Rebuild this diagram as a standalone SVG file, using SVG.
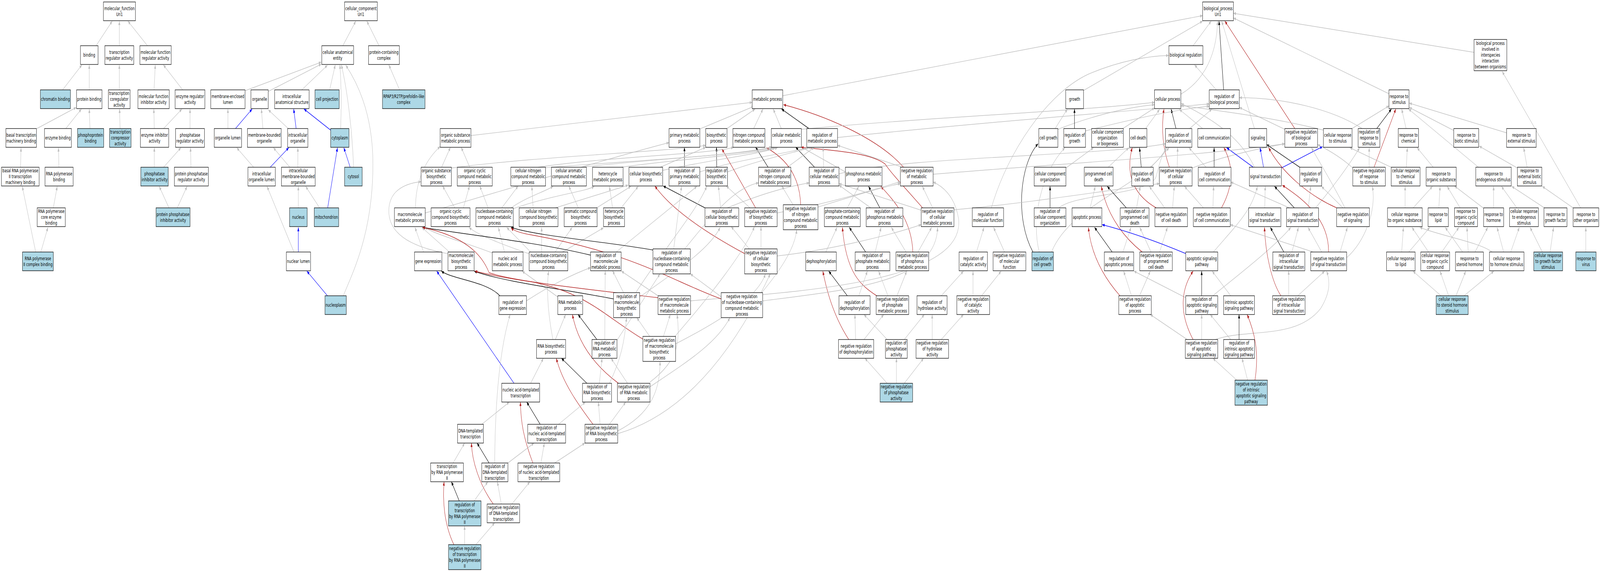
<svg xmlns="http://www.w3.org/2000/svg" width="6543" height="1464" viewBox="0 0 6543 1464" preserveAspectRatio="none" style="width:100vw;height:100vh;display:block;overflow:hidden">
<style>
.n rect{fill:#fff;stroke:#000;stroke-width:1.3}
.n.a rect{fill:#add8e6}
text{font-family:"DejaVu Sans",sans-serif;font-size:13px;text-anchor:middle;fill:#000}
#edges path{fill:none;stroke:#c0c0c0;stroke-width:1.4;marker-end:url(#mg)}
#edges path.k{stroke:#000;marker-end:url(#mk)}
#edges path.b{stroke:#0000ff;marker-end:url(#mb)}
#edges path.r{stroke:#b22222;marker-end:url(#mr)}
</style>
<defs>
<marker id="mg" viewBox="0 0 10 8" refX="10" refY="4" markerWidth="11" markerHeight="8" markerUnits="userSpaceOnUse" orient="auto"><path d="M0,0L10,4L0,8z" fill="#c0c0c0"/></marker>
<marker id="mk" viewBox="0 0 10 8" refX="10" refY="4" markerWidth="11" markerHeight="8" markerUnits="userSpaceOnUse" orient="auto"><path d="M0,0L10,4L0,8z" fill="#000"/></marker>
<marker id="mb" viewBox="0 0 10 8" refX="10" refY="4" markerWidth="11" markerHeight="8" markerUnits="userSpaceOnUse" orient="auto"><path d="M0,0L10,4L0,8z" fill="#0000ff"/></marker>
<marker id="mr" viewBox="0 0 10 8" refX="10" refY="4" markerWidth="11" markerHeight="8" markerUnits="userSpaceOnUse" orient="auto"><path d="M0,0L10,4L0,8z" fill="#b22222"/></marker>
</defs>
<rect width="6543" height="1464" fill="#fff"/>
<g id="edges">
<path d="M393,117 L459,54"/>
<path d="M488,117 L488,54"/>
<path d="M603,117 L523,54"/>
<path d="M256,230 L335,166"/>
<path d="M365,230 L365,166"/>
<path d="M488,230 L488,166"/>
<path d="M630,230 L635,166"/>
<path d="M747,230 L668,166"/>
<path d="M151,329 L312,275"/>
<path d="M269,329 L333,279"/>
<path d="M368,329 L365,279"/>
<path d="M491,329 L489,279"/>
<path d="M631,329 L629,279"/>
<path d="M669,329 L744,279"/>
<path d="M777,329 L777,279"/>
<path d="M84,428 L86,378"/>
<path d="M241,428 L239,378"/>
<path d="M631,428 L631,378"/>
<path d="M669,428 L740,378"/>
<path d="M781,428 L779,378"/>
<path d="M218,532 L234,477"/>
<path d="M691,532 L651,477"/>
<path d="M725,532 L765,477"/>
<path d="M146,645 L91,477"/>
<path d="M167,645 L196,582"/>
<path d="M1402,117 L1455,54"/>
<path d="M1550,117 L1500,54"/>
<path d="M1003,232 L1314,159"/>
<path d="M1097,234 L1314,164"/>
<path d="M1234,230 L1339,167"/>
<path d="M1348,230 L1371,166"/>
<path d="M1393,329 C1396,280 1396,220 1390,166"/>
<path d="M1446,428 C1440,330 1420,230 1396,166"/>
<path d="M1404,757 C1440,700 1525,600 1525,420 C1525,300 1470,220 1414,167"/>
<path class="b" d="M963,329 L1031,279"/>
<path d="M932,329 L932,279"/>
<path d="M1075,329 L1069,279"/>
<path d="M1179,329 L1097,281"/>
<path class="b" d="M1211,329 L1201,279"/>
<path class="b" d="M1352,333 L1243,279"/>
<path d="M1037,428 L968,378"/>
<path class="b" d="M1105,428 L1181,378"/>
<path d="M1185,428 L1118,378"/>
<path d="M1218,428 L1218,378"/>
<path class="b" d="M1432,428 L1406,378"/>
<path class="b" d="M1340,532 L1380,378"/>
<path d="M1220,532 L1220,477"/>
<path d="M1307,532 L1250,477"/>
<path class="b" d="M1220,645 L1220,582"/>
<path d="M1202,645 L1092,477"/>
<path class="b" d="M1339,757 L1255,694"/>
<path d="M1634,230 L1590,166"/>
<path d="M4879,117 L4953,54"/>
<path d="M3201,245 L4918,40"/>
<path d="M4430,232 L4918,54"/>
<path d="M4829,241 C4900,215 4975,160 4979,54"/>
<path class="k" d="M5004,230 L4985,54"/>
<path class="r" d="M5295,329 L5009,54"/>
<path d="M5680,240 L5044,46"/>
<path d="M6028,134 L5044,34"/>
<path d="M4974,230 L4885,166"/>
<path d="M4054,532 C4120,390 4280,240 4450,190 C4580,155 4700,143 4779,142"/>
<path d="M1925,347 L3076,262"/>
<path d="M2862,330 L3084,272"/>
<path d="M2973,329 L3088,279"/>
<path d="M3082,329 L3120,279"/>
<path d="M3195,329 L3162,279"/>
<path class="k" d="M3308,329 L3196,279"/>
<path class="r" d="M3695,428 C3600,360 3400,300 3204,268"/>
<path d="M3276,331 C3800,300 4400,285 4721,262"/>
<path d="M4326,331 C4450,300 4600,275 4721,268"/>
<path d="M4592,329 L4722,276"/>
<path d="M4685,329 L4742,280"/>
<path class="k" d="M4809,329 L4789,279"/>
<path class="r" d="M4782,428 C4750,370 4750,320 4760,279"/>
<path d="M4918,329 L4823,280"/>
<path d="M5130,428 C5080,360 4980,310 4830,265"/>
<path d="M5412,333 C5200,300 5000,285 4830,270"/>
<path d="M5130,329 L4996,54"/>
<path d="M3425,352 C3900,320 4500,290 4945,266"/>
<path d="M4439,335 C4600,310 4800,280 4945,272"/>
<path d="M4865,329 L4956,279"/>
<path d="M5254,331 L5068,275"/>
<path d="M5570,329 C5450,280 5250,250 5068,250"/>
<path d="M3431,445 C3700,400 4500,400 4766,368"/>
<path d="M4330,532 C4400,495 4700,500 4728,452 C4740,420 4755,390 4770,378"/>
<path d="M4300,645 C4380,520 4700,470 4770,378"/>
<path d="M4707,428 L4781,378"/>
<path d="M4814,428 L4816,378"/>
<path d="M4932,428 L4862,378"/>
<path d="M4875,430 C5000,400 5150,380 5254,368"/>
<path d="M4532,428 L4616,378"/>
<path class="k" d="M4667,428 L4660,378"/>
<path class="r" d="M4728,532 C4640,500 4600,450 4630,378"/>
<path d="M4763,532 L4700,477"/>
<path d="M4795,532 L4802,477"/>
<path d="M4648,532 L4663,477"/>
<path class="k" d="M4606,532 L4528,477"/>
<path class="r" d="M4671,645 C4610,615 4530,560 4504,477"/>
<path d="M4707,645 L4661,582"/>
<path d="M4742,645 L4774,582"/>
<path d="M4458,532 L4479,477"/>
<path class="k" d="M4548,645 L4476,582"/>
<path d="M4592,645 L4625,582"/>
<path class="r" d="M4580,757 C4500,700 4460,640 4451,582"/>
<path d="M4627,757 L4595,694"/>
<path d="M4660,757 L4704,694"/>
<path class="b" d="M4849,649 C4700,610 4600,590 4507,575"/>
<path d="M4962,645 C5050,580 5120,540 5142,477"/>
<path class="k" d="M4914,757 L4914,694"/>
<path d="M4849,762 L4637,694"/>
<path d="M4960,757 C5030,720 5200,640 5279,582"/>
<path d="M4914,869 L4914,805"/>
<path d="M4855,869 L4704,805"/>
<path class="r" d="M4879,869 C4820,800 4830,740 4879,694"/>
<path d="M4970,869 C5100,840 5300,870 5400,790 C5440,750 5440,720 5425,694"/>
<path d="M5033,757 L4957,694"/>
<path d="M5033,869 L4949,805"/>
<path class="k" d="M5067,869 L5067,805"/>
<path d="M5058,973 L4960,917"/>
<path d="M5102,973 L5079,917"/>
<path class="r" d="M5132,973 C5150,900 5130,850 5100,805"/>
<path class="b" d="M5125,428 L5016,378"/>
<path class="b" d="M5167,428 L5153,378"/>
<path class="b" d="M5240,430 L5409,375"/>
<path class="k" d="M5293,532 L5212,477"/>
<path d="M5273,532 L5033,466"/>
<path d="M5350,532 L5360,477"/>
<path d="M5380,532 C5450,480 5520,420 5560,378"/>
<path class="k" d="M5315,428 L5180,370"/>
<path class="k" d="M4965,428 L4965,378"/>
<path class="r" d="M4995,532 C5050,470 5040,420 5005,378"/>
<path d="M4960,532 L4963,477"/>
<path d="M4921,532 L4844,477"/>
<path d="M5172,532 L5174,477"/>
<path class="k" d="M5250,645 L5195,582"/>
<path d="M5283,645 L5310,582"/>
<path class="r" d="M5238,757 C5200,720 5175,650 5171,582"/>
<path d="M5270,757 L5270,693"/>
<path d="M5307,757 L5417,694"/>
<path d="M5405,645 L5349,582"/>
<path class="r" d="M5433,645 C5435,560 5330,510 5244,474"/>
<path d="M5480,645 L5510,582"/>
<path d="M5506,660 C5580,620 5630,540 5612,477"/>
<path d="M5370,645 L5031,575"/>
<path class="r" d="M5466,532 C5350,500 5240,440 5188,378"/>
<path d="M5492,532 L5404,477"/>
<path d="M5500,532 C5450,470 5400,420 5363,378"/>
<path class="k" d="M5630,329 L5690,279"/>
<path d="M5599,428 L5599,378"/>
<path class="r" d="M5619,428 L5708,279"/>
<path d="M5532,430 C5480,400 5420,380 5388,370"/>
<path d="M5529,329 L5680,271"/>
<path d="M5750,329 L5732,279"/>
<path d="M5945,334 L5763,275"/>
<path d="M6161,340 L5763,264"/>
<path d="M6046,428 L5760,279"/>
<path d="M5751,428 L5755,378"/>
<path d="M5689,428 L5520,378"/>
<path d="M5861,428 L5795,378"/>
<path d="M6205,430 L6049,374"/>
<path d="M6245,428 L6231,378"/>
<path d="M5746,532 L5746,477"/>
<path d="M5779,532 L5858,477"/>
<path d="M5884,532 L5889,477"/>
<path d="M5971,532 L5918,477"/>
<path d="M6067,533 L5948,476"/>
<path d="M6108,532 L6108,477"/>
<path d="M6203,532 L6140,477"/>
<path d="M6318,533 L6182,477"/>
<path d="M6433,532 L6307,477"/>
<path d="M6464,532 L6143,183"/>
<path d="M5732,645 L5739,582"/>
<path d="M5761,645 L5847,582"/>
<path d="M5842,645 L5774,582"/>
<path d="M5896,645 L5966,582"/>
<path d="M5981,645 L5910,582"/>
<path d="M6004,645 L5999,582"/>
<path d="M6032,645 L6084,582"/>
<path d="M6102,645 C6050,620 5900,605 5806,582"/>
<path d="M6149,645 L6122,582"/>
<path d="M6178,645 L6213,582"/>
<path d="M6307,645 L6257,582"/>
<path d="M6339,645 L6353,582"/>
<path d="M6485,645 L6485,582"/>
<path d="M5893,757 L5778,694"/>
<path d="M5924,757 L5889,694"/>
<path d="M5954,757 L5994,694"/>
<path d="M5987,757 L6109,694"/>
<path d="M4315,329 L4365,279"/>
<path class="k" d="M4394,329 L4394,279"/>
<path class="k" d="M4224,645 C4150,560 4170,420 4245,368"/>
<path d="M4250,645 C4215,560 4260,440 4355,378"/>
<path d="M4359,430 L4472,378"/>
<path class="k" d="M4294,532 L4294,477"/>
<path d="M3993,645 L4024,582"/>
<path d="M4108,645 L4063,582"/>
<path d="M3979,757 L3979,694"/>
<path d="M4014,757 L4094,694"/>
<path d="M3849,757 L3940,694"/>
<path d="M3812,869 L3812,805"/>
<path d="M3849,869 L3940,805"/>
<path d="M3698,869 L3780,805"/>
<path d="M3628,869 L3533,805"/>
<path d="M3499,869 L3496,805"/>
<path d="M3533,869 L3614,805"/>
<path class="r" d="M3471,869 C3420,820 3385,760 3365,694"/>
<path d="M3628,981 L3537,917"/>
<path d="M3666,981 L3666,917"/>
<path d="M3698,981 L3777,917"/>
<path class="k" d="M3465,757 L3389,694"/>
<path d="M3512,757 L3547,694"/>
<path d="M3631,757 L3593,694"/>
<path d="M3668,757 L3708,694"/>
<path class="r" d="M3585,757 C3520,730 3460,700 3445,582"/>
<path d="M3377,645 L3423,582"/>
<path class="k" d="M3540,645 L3473,582"/>
<path d="M3579,645 L3603,582"/>
<path d="M3705,645 L3645,582"/>
<path d="M3754,645 L3810,582"/>
<path class="r" d="M3733,645 C3728,560 3650,510 3602,477"/>
<path d="M3465,532 L3512,477"/>
<path d="M3561,532 L3431,474"/>
<path class="k" d="M3598,532 L3552,477"/>
<path d="M3457,440 L3276,376"/>
<path d="M3767,538 L3431,470"/>
<path d="M3814,532 L3772,477"/>
<path class="r" d="M3773,532 C3700,480 3640,440 3620,420 C3560,390 3400,385 3276,377"/>
<path d="M3901,537 C4200,520 4500,490 4741,470"/>
<path d="M3690,428 L3425,372"/>
<path d="M3816,446 C4300,420 4900,400 5254,368"/>
<path d="M3368,428 L3366,377"/>
<path class="k" d="M3331,428 L3254,377"/>
<path d="M2862,440 C3000,410 3200,395 3310,377"/>
<path d="M2975,440 C3100,410 3250,390 3320,377"/>
<path d="M3220,428 L3330,377"/>
<path class="k" d="M2799,428 L2799,377"/>
<path class="k" d="M2931,428 L2930,377"/>
<path class="k" d="M3141,428 L3090,377"/>
<path d="M2947,532 L2938,476"/>
<path d="M2974,532 C3100,500 3200,480 3309,468"/>
<path class="k" d="M2883,532 L2712,476"/>
<path d="M3067,532 L2970,476"/>
<path class="r" d="M3090,532 L2952,381"/>
<path d="M3178,545 C3400,520 3600,480 3682,465"/>
<path d="M3243,524 L3197,476"/>
<path class="r" d="M3274,524 C3272,470 3240,415 3134,378"/>
<path d="M3345,530 C3500,500 3600,480 3682,470"/>
<path d="M3064,637 L2990,580"/>
<path d="M3112,637 L3112,580"/>
<path class="r" d="M3045,649 C2900,600 2750,540 2678,476"/>
<path d="M3178,655 C3400,640 3650,600 3767,575"/>
<path d="M1806,428 L1842,377"/>
<path d="M1846,430 C2200,400 2700,390 2886,372"/>
<path d="M1921,428 L1886,377"/>
<path d="M2200,428 C2500,400 2900,395 3000,377"/>
<path d="M2215,430 C2600,410 3000,400 3156,376"/>
<path d="M2380,428 C2700,405 3050,395 3160,378"/>
<path d="M2540,428 C2800,405 3100,395 3170,378"/>
<path d="M2700,428 L2886,377"/>
<path d="M2710,436 C2900,410 3100,395 3180,378"/>
<path d="M1699,532 C1700,460 1740,410 1800,375"/>
<path d="M1739,545 C2000,500 2400,420 2736,365"/>
<path d="M1895,532 L1920,476"/>
<path d="M1860,532 L1810,476"/>
<path d="M1996,532 L1962,476"/>
<path d="M2052,532 L2119,476"/>
<path d="M2090,532 C2150,505 2230,490 2262,477"/>
<path d="M2095,535 C2250,500 2400,490 2430,477"/>
<path d="M2180,532 L2175,477"/>
<path d="M2271,532 L2569,474"/>
<path d="M2365,532 L2326,476"/>
<path d="M2440,532 L2580,477"/>
<path d="M2505,532 L2492,477"/>
<path d="M2540,532 L2610,477"/>
<path d="M1732,645 L1697,582"/>
<path d="M1838,645 L1725,582"/>
<path d="M1836,650 C1760,640 1590,620 1590,540 C1590,490 1650,470 1722,465"/>
<path d="M2063,645 L2038,582"/>
<path d="M2016,648 C1900,620 1780,600 1737,582"/>
<path d="M2170,645 L2072,582"/>
<path d="M2166,650 C2050,625 1950,600 1918,582"/>
<path d="M2215,645 L2215,582"/>
<path d="M2270,645 L2340,582"/>
<path d="M2300,645 L2468,583"/>
<path d="M2281,760 L2135,694"/>
<path d="M2271,869 L2313,805"/>
<path d="M2261,869 C2240,800 2235,740 2243,694"/>
<path d="M2170,981 L2222,917"/>
<path class="b" d="M2102,981 L1786,694"/>
<path d="M1970,1086 L2083,1029"/>
<path d="M1853,1185 L1900,1134"/>
<path class="k" d="M2415,653 C2200,620 1900,600 1728,582"/>
<path d="M2520,645 L2850,477"/>
<path d="M2153,770 C2250,730 2350,700 2415,685"/>
<path class="k" d="M2044,757 C1990,720 1850,715 1805,694"/>
<path d="M2550,749 L2505,693"/>
<path d="M2600,749 C2700,650 2850,540 2890,477"/>
<path class="k" d="M2509,765 C2300,740 2050,720 1939,694"/>
<path d="M2616,760 C2750,700 2900,640 2945,582"/>
<path class="k" d="M2670,640 C2500,620 2200,605 2090,582"/>
<path d="M2755,637 L2787,477"/>
<path d="M2800,637 C2900,560 3000,480 3102,468"/>
<path d="M2691,757 L2541,694"/>
<path class="r" d="M2691,762 C2400,740 2100,720 2000,698 C1970,650 1900,605 1728,582"/>
<path d="M2824,770 C3300,745 3950,720 3920,560 C3905,500 3850,475 3816,466"/>
<path d="M3120,770 C3500,740 3830,720 3834,582"/>
<path d="M3115,749 C3180,700 3250,640 3258,588"/>
<path d="M2950,760 L2823,701"/>
<path class="r" d="M2949,765 C2750,720 2600,650 2180,602 C2130,597 2100,590 2090,583"/>
<path d="M2713,861 L2741,805"/>
<path d="M2657,861 L2604,813"/>
<path d="M2760,861 C2900,760 3050,640 3085,580"/>
<path d="M2763,880 C2950,820 3100,760 3130,701"/>
<path class="r" d="M2629,868 C2475,810 2400,750 2180,722 C2050,710 1980,700 1942,694"/>
<path d="M2523,871 L2699,701"/>
<path d="M2473,869 L2475,693"/>
<path class="k" d="M2441,869 L2364,805"/>
<path d="M2566,981 L2499,917"/>
<path d="M2658,990 C2800,930 2930,880 2985,813"/>
<path d="M2658,978 C2780,920 2780,870 2769,805"/>
<path class="r" d="M2529,981 C2420,930 2360,870 2341,805"/>
<path d="M2454,1086 L2447,1029"/>
<path d="M2492,1086 L2559,1029"/>
<path d="M2526,1103 C2660,1060 2700,1000 2699,925"/>
<path d="M2526,1110 C2800,1060 3000,900 3150,701"/>
<path class="r" d="M2425,1086 C2370,1040 2300,980 2275,917"/>
<path d="M2451,981 L2462,917"/>
<path d="M2492,981 C2540,920 2555,870 2562,813"/>
<path class="k" d="M2400,981 L2296,917"/>
<path d="M2284,1086 L2394,1029"/>
<path class="k" d="M2209,1086 L2154,1029"/>
<path d="M2212,1185 L2226,1134"/>
<path d="M2268,1185 L2392,1134"/>
<path class="r" d="M2179,1185 C2140,1120 2130,1080 2128,1029"/>
<path class="k" d="M2000,1185 L1951,1134"/>
<path d="M2077,1185 L2184,1134"/>
<path d="M2023,1185 C2025,1000 2050,880 2086,805"/>
<path d="M2050,1290 L2034,1233"/>
<path d="M2093,1290 L2167,1233"/>
<path class="r" d="M2017,1290 C1960,1240 1930,1180 1928,1134"/>
<path d="M1939,1282 L1995,1233"/>
<path class="k" d="M1878,1282 L1846,1233"/>
<path d="M1900,1394 L1900,1346"/>
<path d="M1946,1394 L2023,1338"/>
<path class="r" d="M1856,1394 C1815,1340 1810,1280 1816,1233"/>
</g>
<g id="nodes">
<g id="n-mf" class="n"><rect x="423" y="5" width="131" height="48"/><text y="26"><tspan x="488.5">molecular_function</tspan><tspan x="488.5" dy="15">Uri1</tspan></text></g>
<g id="n-binding" class="n"><rect x="329" y="117" width="72" height="48"/><text x="365" y="145.5">binding</text></g>
<g id="n-tra" class="n"><rect x="429" y="117" width="118" height="48"/><text y="138"><tspan x="488">transcription</tspan><tspan x="488" dy="15">regulator activity</tspan></text></g>
<g id="n-mfra" class="n"><rect x="572" y="117" width="128" height="48"/><text y="138"><tspan x="636">molecular function</tspan><tspan x="636" dy="15">regulator activity</tspan></text></g>
<g id="n-chromatin" class="n a"><rect x="165" y="230" width="123" height="48"/><text x="226.5" y="258.5">chromatin binding</text></g>
<g id="n-protbind" class="n"><rect x="313" y="230" width="104" height="48"/><text x="365" y="258.5">protein binding</text></g>
<g id="n-tcoreg" class="n"><rect x="443" y="230" width="89" height="48"/><text y="243.5"><tspan x="487.5">transcription</tspan><tspan x="487.5" dy="15">coregulator</tspan><tspan x="487.5" dy="15">activity</tspan></text></g>
<g id="n-mfinh" class="n"><rect x="564" y="230" width="128" height="48"/><text y="251"><tspan x="628">molecular function</tspan><tspan x="628" dy="15">inhibitor activity</tspan></text></g>
<g id="n-enzreg" class="n"><rect x="716" y="230" width="122" height="48"/><text y="251"><tspan x="777">enzyme regulator</tspan><tspan x="777" dy="15">activity</tspan></text></g>
<g id="n-memlumen" class="n"><rect x="862" y="230" width="140" height="48"/><text y="251"><tspan x="932">membrane-enclosed</tspan><tspan x="932" dy="15">lumen</tspan></text></g>
<g id="n-organelle" class="n"><rect x="1026" y="230" width="71" height="48"/><text x="1061.5" y="258.5">organelle</text></g>
<g id="n-basaltm" class="n"><rect x="24" y="329" width="125" height="48"/><text y="350"><tspan x="86.5">basal transcription</tspan><tspan x="86.5" dy="15">machinery binding</tspan></text></g>
<g id="n-enzbind" class="n"><rect x="182" y="329" width="110" height="48"/><text x="237" y="357.5">enzyme binding</text></g>
<g id="n-phosphoprot" class="n a"><rect x="317" y="329" width="107" height="48"/><text y="350"><tspan x="370.5">phosphoprotein</tspan><tspan x="370.5" dy="15">binding</tspan></text></g>
<g id="n-tcorep" class="n a"><rect x="448" y="329" width="88" height="48"/><text y="342.5"><tspan x="492">transcription</tspan><tspan x="492" dy="15">corepressor</tspan><tspan x="492" dy="15">activity</tspan></text></g>
<g id="n-enzinh" class="n"><rect x="574" y="329" width="116" height="48"/><text y="350"><tspan x="632">enzyme inhibitor</tspan><tspan x="632" dy="15">activity</tspan></text></g>
<g id="n-phosreg" class="n"><rect x="718" y="329" width="118" height="48"/><text y="350"><tspan x="777">phosphatase</tspan><tspan x="777" dy="15">regulator activity</tspan></text></g>
<g id="n-orglumen" class="n"><rect x="876" y="329" width="112" height="48"/><text x="932" y="357.5">organelle lumen</text></g>
<g id="n-mbo" class="n"><rect x="1012" y="329" width="138" height="48"/><text y="350"><tspan x="1081">membrane-bounded</tspan><tspan x="1081" dy="15">organelle</tspan></text></g>
<g id="n-basalrna" class="n"><rect x="6" y="428" width="154" height="48"/><text y="441.5"><tspan x="83">basal RNA polymerase</tspan><tspan x="83" dy="15">II transcription</tspan><tspan x="83" dy="15">machinery binding</tspan></text></g>
<g id="n-rnapolbind" class="n"><rect x="184" y="428" width="115" height="48"/><text y="449"><tspan x="241.5">RNA polymerase</tspan><tspan x="241.5" dy="15">binding</tspan></text></g>
<g id="n-phosinh" class="n a"><rect x="576" y="428" width="112" height="48"/><text y="449"><tspan x="632">phosphatase</tspan><tspan x="632" dy="15">inhibitor activity</tspan></text></g>
<g id="n-ppreg" class="n"><rect x="713" y="428" width="139" height="48"/><text y="449"><tspan x="782.5">protein phosphatase</tspan><tspan x="782.5" dy="15">regulator activity</tspan></text></g>
<g id="n-iol" class="n"><rect x="1014" y="428" width="112" height="48"/><text y="449"><tspan x="1070">intracellular</tspan><tspan x="1070" dy="15">organelle lumen</tspan></text></g>
<g id="n-rnacore" class="n"><rect x="152" y="532" width="115" height="48"/><text y="545.5"><tspan x="209.5">RNA polymerase</tspan><tspan x="209.5" dy="15">core enzyme</tspan><tspan x="209.5" dy="15">binding</tspan></text></g>
<g id="n-ppinh" class="n a"><rect x="638" y="532" width="139" height="48"/><text y="553"><tspan x="707.5">protein phosphatase</tspan><tspan x="707.5" dy="15">inhibitor activity</tspan></text></g>
<g id="n-rnapol2cb" class="n a"><rect x="92" y="645" width="126" height="48"/><text y="666"><tspan x="155">RNA polymerase</tspan><tspan x="155" dy="15">II complex binding</tspan></text></g>
<g id="n-cc" class="n"><rect x="1409" y="5" width="134" height="48"/><text y="26"><tspan x="1476">cellular_component</tspan><tspan x="1476" dy="15">Uri1</tspan></text></g>
<g id="n-cae" class="n"><rect x="1316" y="117" width="130" height="48"/><text y="138"><tspan x="1381">cellular anatomical</tspan><tspan x="1381" dy="15">entity</tspan></text></g>
<g id="n-pcc" class="n"><rect x="1507" y="117" width="126" height="48"/><text y="138"><tspan x="1570">protein-containing</tspan><tspan x="1570" dy="15">complex</tspan></text></g>
<g id="n-ias" class="n"><rect x="1123" y="230" width="141" height="48"/><text y="251"><tspan x="1193.5">intracellular</tspan><tspan x="1193.5" dy="15">anatomical structure</tspan></text></g>
<g id="n-cellproj" class="n a"><rect x="1288" y="230" width="99" height="48"/><text x="1337.5" y="258.5">cell projection</text></g>
<g id="n-rpap3" class="n a"><rect x="1564" y="230" width="174" height="48"/><text y="251"><tspan x="1651">RPAP3/R2TP/prefoldin-like</tspan><tspan x="1651" dy="15">complex</tspan></text></g>
<g id="n-intorg" class="n"><rect x="1176" y="329" width="83" height="48"/><text y="350"><tspan x="1217.5">intracellular</tspan><tspan x="1217.5" dy="15">organelle</tspan></text></g>
<g id="n-cytoplasm" class="n a"><rect x="1352" y="329" width="75" height="48"/><text x="1389.5" y="357.5">cytoplasm</text></g>
<g id="n-imbo" class="n"><rect x="1151" y="428" width="138" height="48"/><text y="441.5"><tspan x="1220">intracellular</tspan><tspan x="1220" dy="15">membrane-bounded</tspan><tspan x="1220" dy="15">organelle</tspan></text></g>
<g id="n-cytosol" class="n a"><rect x="1409" y="428" width="72" height="48"/><text x="1445" y="456.5">cytosol</text></g>
<g id="n-nucleus" class="n a"><rect x="1184" y="532" width="72" height="48"/><text x="1220" y="560.5">nucleus</text></g>
<g id="n-mito" class="n a"><rect x="1285" y="532" width="100" height="48"/><text x="1335" y="560.5">mitochondrion</text></g>
<g id="n-nuclumen" class="n"><rect x="1171" y="645" width="99" height="48"/><text x="1220.5" y="673.5">nuclear lumen</text></g>
<g id="n-nucleoplasm" class="n a"><rect x="1329" y="757" width="87" height="48"/><text x="1372.5" y="785.5">nucleoplasm</text></g>
<g id="n-bp" class="n"><rect x="4918" y="5" width="126" height="48"/><text y="26"><tspan x="4981">biological_process</tspan><tspan x="4981" dy="15">Uri1</tspan></text></g>
<g id="n-br" class="n"><rect x="4780" y="117" width="139" height="48"/><text x="4849.5" y="145.5">biological regulation</text></g>
<g id="n-inter" class="n"><rect x="6028" y="101" width="134" height="80"/><text y="115.5"><tspan x="6095">biological process</tspan><tspan x="6095" dy="15">involved in</tspan><tspan x="6095" dy="15">interspecies</tspan><tspan x="6095" dy="15">interaction</tspan><tspan x="6095" dy="15">between organisms</tspan></text></g>
<g id="n-mp" class="n"><rect x="3076" y="230" width="125" height="48"/><text x="3138.5" y="258.5">metabolic process</text></g>
<g id="n-grow" class="n"><rect x="4358" y="230" width="73" height="48"/><text x="4394.5" y="258.5">growth</text></g>
<g id="n-cp" class="n"><rect x="4721" y="230" width="108" height="48"/><text x="4775" y="258.5">cellular process</text></g>
<g id="n-rbp" class="n"><rect x="4945" y="230" width="123" height="48"/><text y="251"><tspan x="5006.5">regulation of</tspan><tspan x="5006.5" dy="15">biological process</tspan></text></g>
<g id="n-rs" class="n"><rect x="5680" y="230" width="82" height="48"/><text y="251"><tspan x="5721">response to</tspan><tspan x="5721" dy="15">stimulus</tspan></text></g>
<g id="n-osmp" class="n"><rect x="1800" y="329" width="126" height="48"/><text y="350"><tspan x="1863">organic substance</tspan><tspan x="1863" dy="15">metabolic process</tspan></text></g>
<g id="n-pmp" class="n"><rect x="2736" y="329" width="126" height="48"/><text y="350"><tspan x="2799">primary metabolic</tspan><tspan x="2799" dy="15">process</tspan></text></g>
<g id="n-bios" class="n"><rect x="2886" y="329" width="87" height="48"/><text y="350"><tspan x="2929.5">biosynthetic</tspan><tspan x="2929.5" dy="15">process</tspan></text></g>
<g id="n-ncmp" class="n"><rect x="2997" y="329" width="131" height="48"/><text y="350"><tspan x="3062.5">nitrogen compound</tspan><tspan x="3062.5" dy="15">metabolic process</tspan></text></g>
<g id="n-cmp" class="n"><rect x="3154" y="329" width="123" height="48"/><text y="350"><tspan x="3215.5">cellular metabolic</tspan><tspan x="3215.5" dy="15">process</tspan></text></g>
<g id="n-rmp" class="n"><rect x="3299" y="329" width="126" height="48"/><text y="350"><tspan x="3362">regulation of</tspan><tspan x="3362" dy="15">metabolic process</tspan></text></g>
<g id="n-cg" class="n"><rect x="4248" y="329" width="78" height="48"/><text x="4287" y="357.5">cell growth</text></g>
<g id="n-rg" class="n"><rect x="4350" y="329" width="89" height="48"/><text y="350"><tspan x="4394.5">regulation of</tspan><tspan x="4394.5" dy="15">growth</tspan></text></g>
<g id="n-ccob" class="n"><rect x="4464" y="329" width="130" height="48"/><text y="342.5"><tspan x="4529">cellular component</tspan><tspan x="4529" dy="15">organization</tspan><tspan x="4529" dy="15">or biogenesis</tspan></text></g>
<g id="n-cd" class="n"><rect x="4619" y="329" width="71" height="48"/><text x="4654.5" y="357.5">cell death</text></g>
<g id="n-rcp" class="n"><rect x="4766" y="329" width="108" height="48"/><text y="350"><tspan x="4820">regulation of</tspan><tspan x="4820" dy="15">cellular process</tspan></text></g>
<g id="n-cc2" class="n"><rect x="4898" y="329" width="134" height="48"/><text x="4965" y="357.5">cell communication</text></g>
<g id="n-sig" class="n"><rect x="5108" y="329" width="72" height="48"/><text x="5144" y="357.5">signaling</text></g>
<g id="n-nrbp" class="n"><rect x="5254" y="329" width="134" height="48"/><text y="342.5"><tspan x="5321">negative regulation</tspan><tspan x="5321" dy="15">of biological</tspan><tspan x="5321" dy="15">process</tspan></text></g>
<g id="n-crs" class="n"><rect x="5412" y="329" width="117" height="48"/><text y="350"><tspan x="5470.5">cellular response</tspan><tspan x="5470.5" dy="15">to stimulus</tspan></text></g>
<g id="n-rrs" class="n"><rect x="5554" y="329" width="89" height="48"/><text y="342.5"><tspan x="5598.5">regulation of</tspan><tspan x="5598.5" dy="15">response to</tspan><tspan x="5598.5" dy="15">stimulus</tspan></text></g>
<g id="n-rch" class="n"><rect x="5718" y="329" width="83" height="48"/><text y="350"><tspan x="5759.5">response to</tspan><tspan x="5759.5" dy="15">chemical</tspan></text></g>
<g id="n-rbs" class="n"><rect x="5945" y="329" width="102" height="48"/><text y="350"><tspan x="5996">response to</tspan><tspan x="5996" dy="15">biotic stimulus</tspan></text></g>
<g id="n-res" class="n"><rect x="6161" y="329" width="121" height="48"/><text y="350"><tspan x="6221.5">response to</tspan><tspan x="6221.5" dy="15">external stimulus</tspan></text></g>
<g id="n-osbp" class="n"><rect x="1722" y="428" width="124" height="48"/><text y="441.5"><tspan x="1784">organic substance</tspan><tspan x="1784" dy="15">biosynthetic</tspan><tspan x="1784" dy="15">process</tspan></text></g>
<g id="n-occmp" class="n"><rect x="1870" y="428" width="143" height="48"/><text y="441.5"><tspan x="1941.5">organic cyclic</tspan><tspan x="1941.5" dy="15">compound metabolic</tspan><tspan x="1941.5" dy="15">process</tspan></text></g>
<g id="n-cncmp" class="n"><rect x="2089" y="428" width="142" height="48"/><text y="441.5"><tspan x="2160">cellular nitrogen</tspan><tspan x="2160" dy="15">compound metabolic</tspan><tspan x="2160" dy="15">process</tspan></text></g>
<g id="n-cacmp" class="n"><rect x="2255" y="428" width="143" height="48"/><text y="441.5"><tspan x="2326.5">cellular aromatic</tspan><tspan x="2326.5" dy="15">compound metabolic</tspan><tspan x="2326.5" dy="15">process</tspan></text></g>
<g id="n-hmp" class="n"><rect x="2423" y="428" width="125" height="48"/><text y="449"><tspan x="2485.5">heterocycle</tspan><tspan x="2485.5" dy="15">metabolic process</tspan></text></g>
<g id="n-cbp" class="n"><rect x="2572" y="428" width="138" height="48"/><text y="449"><tspan x="2641">cellular biosynthetic</tspan><tspan x="2641" dy="15">process</tspan></text></g>
<g id="n-rpmp" class="n"><rect x="2736" y="428" width="126" height="48"/><text y="441.5"><tspan x="2799">regulation of</tspan><tspan x="2799" dy="15">primary metabolic</tspan><tspan x="2799" dy="15">process</tspan></text></g>
<g id="n-rbios" class="n"><rect x="2886" y="428" width="89" height="48"/><text y="441.5"><tspan x="2930.5">regulation of</tspan><tspan x="2930.5" dy="15">biosynthetic</tspan><tspan x="2930.5" dy="15">process</tspan></text></g>
<g id="n-rncmp" class="n"><rect x="3102" y="428" width="132" height="48"/><text y="441.5"><tspan x="3168">regulation of</tspan><tspan x="3168" dy="15">nitrogen compound</tspan><tspan x="3168" dy="15">metabolic process</tspan></text></g>
<g id="n-rcmp" class="n"><rect x="3309" y="428" width="122" height="48"/><text y="441.5"><tspan x="3370">regulation of</tspan><tspan x="3370" dy="15">cellular metabolic</tspan><tspan x="3370" dy="15">process</tspan></text></g>
<g id="n-phmp" class="n"><rect x="3457" y="428" width="150" height="48"/><text y="449"><tspan x="3532">phosphorus metabolic</tspan><tspan x="3532" dy="15">process</tspan></text></g>
<g id="n-nrmp" class="n"><rect x="3682" y="428" width="134" height="48"/><text y="441.5"><tspan x="3749">negative regulation</tspan><tspan x="3749" dy="15">of metabolic</tspan><tspan x="3749" dy="15">process</tspan></text></g>
<g id="n-cco" class="n"><rect x="4229" y="428" width="130" height="48"/><text y="449"><tspan x="4294">cellular component</tspan><tspan x="4294" dy="15">organization</tspan></text></g>
<g id="n-pcd" class="n"><rect x="4434" y="428" width="118" height="48"/><text y="449"><tspan x="4493">programmed cell</tspan><tspan x="4493" dy="15">death</tspan></text></g>
<g id="n-rcd" class="n"><rect x="4628" y="428" width="88" height="48"/><text y="449"><tspan x="4672">regulation of</tspan><tspan x="4672" dy="15">cell death</tspan></text></g>
<g id="n-nrcp" class="n"><rect x="4741" y="428" width="134" height="48"/><text y="441.5"><tspan x="4808">negative regulation</tspan><tspan x="4808" dy="15">of cellular</tspan><tspan x="4808" dy="15">process</tspan></text></g>
<g id="n-rcc" class="n"><rect x="4900" y="428" width="134" height="48"/><text y="449"><tspan x="4967">regulation of</tspan><tspan x="4967" dy="15">cell communication</tspan></text></g>
<g id="n-st" class="n"><rect x="5109" y="428" width="131" height="48"/><text x="5174.5" y="456.5">signal transduction</text></g>
<g id="n-rsig" class="n"><rect x="5315" y="428" width="90" height="48"/><text y="449"><tspan x="5360">regulation of</tspan><tspan x="5360" dy="15">signaling</tspan></text></g>
<g id="n-nrrs" class="n"><rect x="5532" y="428" width="133" height="48"/><text y="441.5"><tspan x="5598.5">negative regulation</tspan><tspan x="5598.5" dy="15">of response</tspan><tspan x="5598.5" dy="15">to stimulus</tspan></text></g>
<g id="n-crcs" class="n"><rect x="5689" y="428" width="118" height="48"/><text y="441.5"><tspan x="5748">cellular response</tspan><tspan x="5748" dy="15">to chemical</tspan><tspan x="5748" dy="15">stimulus</tspan></text></g>
<g id="n-ros" class="n"><rect x="5832" y="428" width="123" height="48"/><text y="449"><tspan x="5893.5">response to</tspan><tspan x="5893.5" dy="15">organic substance</tspan></text></g>
<g id="n-rend" class="n"><rect x="6035" y="428" width="145" height="48"/><text y="449"><tspan x="6107.5">response to</tspan><tspan x="6107.5" dy="15">endogenous stimulus</tspan></text></g>
<g id="n-reb" class="n"><rect x="6205" y="428" width="100" height="48"/><text y="441.5"><tspan x="6255">response to</tspan><tspan x="6255" dy="15">external biotic</tspan><tspan x="6255" dy="15">stimulus</tspan></text></g>
<g id="n-mmp" class="n"><rect x="1613" y="532" width="126" height="48"/><text y="553"><tspan x="1676">macromolecule</tspan><tspan x="1676" dy="15">metabolic process</tspan></text></g>
<g id="n-occbp" class="n"><rect x="1763" y="532" width="159" height="48"/><text y="545.5"><tspan x="1842.5">organic cyclic</tspan><tspan x="1842.5" dy="15">compound biosynthetic</tspan><tspan x="1842.5" dy="15">process</tspan></text></g>
<g id="n-nccmp" class="n"><rect x="1946" y="532" width="153" height="48"/><text y="545.5"><tspan x="2022.5">nucleobase-containing</tspan><tspan x="2022.5" dy="15">compound metabolic</tspan><tspan x="2022.5" dy="15">process</tspan></text></g>
<g id="n-cncbp" class="n"><rect x="2123" y="532" width="159" height="48"/><text y="545.5"><tspan x="2202.5">cellular nitrogen</tspan><tspan x="2202.5" dy="15">compound biosynthetic</tspan><tspan x="2202.5" dy="15">process</tspan></text></g>
<g id="n-acbp" class="n"><rect x="2307" y="532" width="135" height="48"/><text y="545.5"><tspan x="2374.5">aromatic compound</tspan><tspan x="2374.5" dy="15">biosynthetic</tspan><tspan x="2374.5" dy="15">process</tspan></text></g>
<g id="n-hbp" class="n"><rect x="2468" y="532" width="86" height="48"/><text y="545.5"><tspan x="2511">heterocycle</tspan><tspan x="2511" dy="15">biosynthetic</tspan><tspan x="2511" dy="15">process</tspan></text></g>
<g id="n-rcbp" class="n"><rect x="2883" y="532" width="138" height="48"/><text y="545.5"><tspan x="2952">regulation of</tspan><tspan x="2952" dy="15">cellular biosynthetic</tspan><tspan x="2952" dy="15">process</tspan></text></g>
<g id="n-nrbios" class="n"><rect x="3045" y="532" width="133" height="48"/><text y="545.5"><tspan x="3111.5">negative regulation</tspan><tspan x="3111.5" dy="15">of biosynthetic</tspan><tspan x="3111.5" dy="15">process</tspan></text></g>
<g id="n-nrncmp" class="n"><rect x="3203" y="524" width="142" height="64"/><text y="538"><tspan x="3274">negative regulation</tspan><tspan x="3274" dy="15">of nitrogen</tspan><tspan x="3274" dy="15">compound metabolic</tspan><tspan x="3274" dy="15">process</tspan></text></g>
<g id="n-pccmp" class="n"><rect x="3371" y="532" width="147" height="48"/><text y="545.5"><tspan x="3444.5">phosphate-containing</tspan><tspan x="3444.5" dy="15">compound metabolic</tspan><tspan x="3444.5" dy="15">process</tspan></text></g>
<g id="n-rphmp" class="n"><rect x="3542" y="532" width="150" height="48"/><text y="545.5"><tspan x="3617">regulation of</tspan><tspan x="3617" dy="15">phosphorus metabolic</tspan><tspan x="3617" dy="15">process</tspan></text></g>
<g id="n-nrcmp" class="n"><rect x="3767" y="532" width="134" height="48"/><text y="545.5"><tspan x="3834">negative regulation</tspan><tspan x="3834" dy="15">of cellular</tspan><tspan x="3834" dy="15">metabolic process</tspan></text></g>
<g id="n-rmf" class="n"><rect x="3976" y="532" width="128" height="48"/><text y="553"><tspan x="4040">regulation of</tspan><tspan x="4040" dy="15">molecular function</tspan></text></g>
<g id="n-rcco" class="n"><rect x="4229" y="532" width="130" height="48"/><text y="545.5"><tspan x="4294">regulation of</tspan><tspan x="4294" dy="15">cellular component</tspan><tspan x="4294" dy="15">organization</tspan></text></g>
<g id="n-ap" class="n"><rect x="4384" y="532" width="122" height="48"/><text x="4445" y="560.5">apoptotic process</text></g>
<g id="n-rpcd" class="n"><rect x="4581" y="532" width="118" height="48"/><text y="545.5"><tspan x="4640">regulation of</tspan><tspan x="4640" dy="15">programmed cell</tspan><tspan x="4640" dy="15">death</tspan></text></g>
<g id="n-nrcd" class="n"><rect x="4723" y="532" width="133" height="48"/><text y="553"><tspan x="4789.5">negative regulation</tspan><tspan x="4789.5" dy="15">of cell death</tspan></text></g>
<g id="n-nrcc" class="n"><rect x="4880" y="532" width="151" height="48"/><text y="553"><tspan x="4955.5">negative regulation</tspan><tspan x="4955.5" dy="15">of cell communication</tspan></text></g>
<g id="n-ist" class="n"><rect x="5106" y="532" width="132" height="48"/><text y="553"><tspan x="5172">intracellular</tspan><tspan x="5172" dy="15">signal transduction</tspan></text></g>
<g id="n-rst" class="n"><rect x="5261" y="532" width="131" height="48"/><text y="553"><tspan x="5326.5">regulation of</tspan><tspan x="5326.5" dy="15">signal transduction</tspan></text></g>
<g id="n-nrsig" class="n"><rect x="5466" y="532" width="134" height="48"/><text y="553"><tspan x="5533">negative regulation</tspan><tspan x="5533" dy="15">of signaling</tspan></text></g>
<g id="n-cros" class="n"><rect x="5674" y="532" width="142" height="48"/><text y="553"><tspan x="5745">cellular response</tspan><tspan x="5745" dy="15">to organic substance</tspan></text></g>
<g id="n-rlip" class="n"><rect x="5840" y="532" width="83" height="48"/><text y="553"><tspan x="5881.5">response to</tspan><tspan x="5881.5" dy="15">lipid</tspan></text></g>
<g id="n-rocc" class="n"><rect x="5948" y="532" width="94" height="48"/><text y="545.5"><tspan x="5995">response to</tspan><tspan x="5995" dy="15">organic cyclic</tspan><tspan x="5995" dy="15">compound</tspan></text></g>
<g id="n-rhor" class="n"><rect x="6067" y="532" width="82" height="48"/><text y="553"><tspan x="6108">response to</tspan><tspan x="6108" dy="15">hormone</tspan></text></g>
<g id="n-crend" class="n"><rect x="6173" y="532" width="118" height="48"/><text y="545.5"><tspan x="6232">cellular response</tspan><tspan x="6232" dy="15">to endogenous</tspan><tspan x="6232" dy="15">stimulus</tspan></text></g>
<g id="n-rgf" class="n"><rect x="6314" y="532" width="94" height="48"/><text y="553"><tspan x="6361">response to</tspan><tspan x="6361" dy="15">growth factor</tspan></text></g>
<g id="n-roo" class="n"><rect x="6433" y="532" width="105" height="48"/><text y="553"><tspan x="6485.5">response to</tspan><tspan x="6485.5" dy="15">other organism</tspan></text></g>
<g id="n-ge" class="n"><rect x="1695" y="645" width="112" height="48"/><text x="1751" y="673.5">gene expression</text></g>
<g id="n-mbp" class="n"><rect x="1832" y="645" width="107" height="48"/><text y="658.5"><tspan x="1885.5">macromolecule</tspan><tspan x="1885.5" dy="15">biosynthetic</tspan><tspan x="1885.5" dy="15">process</tspan></text></g>
<g id="n-namp" class="n"><rect x="2013" y="645" width="126" height="48"/><text y="666"><tspan x="2076">nucleic acid</tspan><tspan x="2076" dy="15">metabolic process</tspan></text></g>
<g id="n-nccbp" class="n"><rect x="2164" y="645" width="158" height="48"/><text y="658.5"><tspan x="2243">nucleobase-containing</tspan><tspan x="2243" dy="15">compound biosynthetic</tspan><tspan x="2243" dy="15">process</tspan></text></g>
<g id="n-rmmp" class="n"><rect x="2415" y="645" width="125" height="48"/><text y="658.5"><tspan x="2477.5">regulation of</tspan><tspan x="2477.5" dy="15">macromolecule</tspan><tspan x="2477.5" dy="15">metabolic process</tspan></text></g>
<g id="n-rnccmp" class="n"><rect x="2670" y="637" width="153" height="64"/><text y="651"><tspan x="2746.5">regulation of</tspan><tspan x="2746.5" dy="15">nucleobase-containing</tspan><tspan x="2746.5" dy="15">compound metabolic</tspan><tspan x="2746.5" dy="15">process</tspan></text></g>
<g id="n-nrcbp" class="n"><rect x="3045" y="637" width="133" height="64"/><text y="651"><tspan x="3111.5">negative regulation</tspan><tspan x="3111.5" dy="15">of cellular</tspan><tspan x="3111.5" dy="15">biosynthetic</tspan><tspan x="3111.5" dy="15">process</tspan></text></g>
<g id="n-dep" class="n"><rect x="3295" y="645" width="125" height="48"/><text x="3357.5" y="673.5">dephosphorylation</text></g>
<g id="n-rphos" class="n"><rect x="3497" y="645" width="142" height="48"/><text y="658.5"><tspan x="3568">regulation of</tspan><tspan x="3568" dy="15">phosphate metabolic</tspan><tspan x="3568" dy="15">process</tspan></text></g>
<g id="n-nrphmp" class="n"><rect x="3664" y="645" width="134" height="48"/><text y="658.5"><tspan x="3731">negative regulation</tspan><tspan x="3731" dy="15">of phosphorus</tspan><tspan x="3731" dy="15">metabolic process</tspan></text></g>
<g id="n-rca" class="n"><rect x="3922" y="645" width="116" height="48"/><text y="666"><tspan x="3980">regulation of</tspan><tspan x="3980" dy="15">catalytic activity</tspan></text></g>
<g id="n-nrmf" class="n"><rect x="4061" y="645" width="134" height="48"/><text y="658.5"><tspan x="4128">negative regulation</tspan><tspan x="4128" dy="15">of molecular</tspan><tspan x="4128" dy="15">function</tspan></text></g>
<g id="n-rcgr" class="n a"><rect x="4220" y="645" width="88" height="48"/><text y="666"><tspan x="4264">regulation of</tspan><tspan x="4264" dy="15">cell growth</tspan></text></g>
<g id="n-rap" class="n"><rect x="4516" y="645" width="120" height="48"/><text y="666"><tspan x="4576">regulation of</tspan><tspan x="4576" dy="15">apoptotic process</tspan></text></g>
<g id="n-nrpcd" class="n"><rect x="4661" y="645" width="133" height="48"/><text y="658.5"><tspan x="4727.5">negative regulation</tspan><tspan x="4727.5" dy="15">of programmed</tspan><tspan x="4727.5" dy="15">cell death</tspan></text></g>
<g id="n-asp" class="n"><rect x="4849" y="645" width="131" height="48"/><text y="666"><tspan x="4914.5">apoptotic signaling</tspan><tspan x="4914.5" dy="15">pathway</tspan></text></g>
<g id="n-rist" class="n"><rect x="5205" y="645" width="131" height="48"/><text y="658.5"><tspan x="5270.5">regulation of</tspan><tspan x="5270.5" dy="15">intracellular</tspan><tspan x="5270.5" dy="15">signal transduction</tspan></text></g>
<g id="n-nrst" class="n"><rect x="5360" y="645" width="147" height="48"/><text y="666"><tspan x="5433.5">negative regulation</tspan><tspan x="5433.5" dy="15">of signal transduction</tspan></text></g>
<g id="n-crlip" class="n"><rect x="5670" y="645" width="117" height="48"/><text y="666"><tspan x="5728.5">cellular response</tspan><tspan x="5728.5" dy="15">to lipid</tspan></text></g>
<g id="n-crocc" class="n"><rect x="5810" y="645" width="118" height="48"/><text y="658.5"><tspan x="5869">cellular response</tspan><tspan x="5869" dy="15">to organic cyclic</tspan><tspan x="5869" dy="15">compound</tspan></text></g>
<g id="n-rsh" class="n"><rect x="5952" y="645" width="114" height="48"/><text y="666"><tspan x="6009">response to</tspan><tspan x="6009" dy="15">steroid hormone</tspan></text></g>
<g id="n-crhs" class="n"><rect x="6091" y="645" width="141" height="48"/><text y="666"><tspan x="6161.5">cellular response</tspan><tspan x="6161.5" dy="15">to hormone stimulus</tspan></text></g>
<g id="n-crgf" class="n a"><rect x="6272" y="645" width="118" height="48"/><text y="658.5"><tspan x="6331">cellular response</tspan><tspan x="6331" dy="15">to growth factor</tspan><tspan x="6331" dy="15">stimulus</tspan></text></g>
<g id="n-rv" class="n a"><rect x="6444" y="645" width="83" height="48"/><text y="666"><tspan x="6485.5">response to</tspan><tspan x="6485.5" dy="15">virus</tspan></text></g>
<g id="n-rge" class="n"><rect x="2040" y="757" width="113" height="48"/><text y="778"><tspan x="2096.5">regulation of</tspan><tspan x="2096.5" dy="15">gene expression</tspan></text></g>
<g id="n-rnamp" class="n"><rect x="2281" y="757" width="102" height="48"/><text y="778"><tspan x="2332">RNA metabolic</tspan><tspan x="2332" dy="15">process</tspan></text></g>
<g id="n-rmbp" class="n"><rect x="2509" y="749" width="107" height="64"/><text y="763"><tspan x="2562.5">regulation of</tspan><tspan x="2562.5" dy="15">macromolecule</tspan><tspan x="2562.5" dy="15">biosynthetic</tspan><tspan x="2562.5" dy="15">process</tspan></text></g>
<g id="n-nrmmp" class="n"><rect x="2691" y="757" width="133" height="48"/><text y="770.5"><tspan x="2757.5">negative regulation</tspan><tspan x="2757.5" dy="15">of macromolecule</tspan><tspan x="2757.5" dy="15">metabolic process</tspan></text></g>
<g id="n-nrnccmp" class="n"><rect x="2949" y="749" width="170" height="64"/><text y="763"><tspan x="3034">negative regulation</tspan><tspan x="3034" dy="15">of nucleobase-containing</tspan><tspan x="3034" dy="15">compound metabolic</tspan><tspan x="3034" dy="15">process</tspan></text></g>
<g id="n-rdep" class="n"><rect x="3431" y="757" width="127" height="48"/><text y="778"><tspan x="3494.5">regulation of</tspan><tspan x="3494.5" dy="15">dephosphorylation</tspan></text></g>
<g id="n-nrphos" class="n"><rect x="3583" y="757" width="133" height="48"/><text y="770.5"><tspan x="3649.5">negative regulation</tspan><tspan x="3649.5" dy="15">of phosphate</tspan><tspan x="3649.5" dy="15">metabolic process</tspan></text></g>
<g id="n-rha" class="n"><rect x="3750" y="757" width="123" height="48"/><text y="778"><tspan x="3811.5">regulation of</tspan><tspan x="3811.5" dy="15">hydrolase activity</tspan></text></g>
<g id="n-nrca" class="n"><rect x="3913" y="757" width="134" height="48"/><text y="770.5"><tspan x="3980">negative regulation</tspan><tspan x="3980" dy="15">of catalytic</tspan><tspan x="3980" dy="15">activity</tspan></text></g>
<g id="n-nrap" class="n"><rect x="4575" y="757" width="133" height="48"/><text y="770.5"><tspan x="4641.5">negative regulation</tspan><tspan x="4641.5" dy="15">of apoptotic</tspan><tspan x="4641.5" dy="15">process</tspan></text></g>
<g id="n-rasp" class="n"><rect x="4849" y="757" width="131" height="48"/><text y="770.5"><tspan x="4914.5">regulation of</tspan><tspan x="4914.5" dy="15">apoptotic signaling</tspan><tspan x="4914.5" dy="15">pathway</tspan></text></g>
<g id="n-iasp" class="n"><rect x="5004" y="757" width="126" height="48"/><text y="778"><tspan x="5067">intrinsic apoptotic</tspan><tspan x="5067" dy="15">signaling pathway</tspan></text></g>
<g id="n-nrist" class="n"><rect x="5204" y="757" width="133" height="48"/><text y="770.5"><tspan x="5270.5">negative regulation</tspan><tspan x="5270.5" dy="15">of intracellular</tspan><tspan x="5270.5" dy="15">signal transduction</tspan></text></g>
<g id="n-crsh" class="n a"><rect x="5873" y="757" width="131" height="48"/><text y="770.5"><tspan x="5938.5">cellular response</tspan><tspan x="5938.5" dy="15">to steroid hormone</tspan><tspan x="5938.5" dy="15">stimulus</tspan></text></g>
<g id="n-rnabp" class="n"><rect x="2194" y="869" width="119" height="48"/><text y="890"><tspan x="2253.5">RNA biosynthetic</tspan><tspan x="2253.5" dy="15">process</tspan></text></g>
<g id="n-rrnamp" class="n"><rect x="2421" y="869" width="102" height="48"/><text y="882.5"><tspan x="2472">regulation of</tspan><tspan x="2472" dy="15">RNA metabolic</tspan><tspan x="2472" dy="15">process</tspan></text></g>
<g id="n-nrmbp" class="n"><rect x="2629" y="861" width="134" height="64"/><text y="875"><tspan x="2696">negative regulation</tspan><tspan x="2696" dy="15">of macromolecule</tspan><tspan x="2696" dy="15">biosynthetic</tspan><tspan x="2696" dy="15">process</tspan></text></g>
<g id="n-nrdep" class="n"><rect x="3429" y="869" width="144" height="48"/><text y="890"><tspan x="3501">negative regulation</tspan><tspan x="3501" dy="15">of dephosphorylation</tspan></text></g>
<g id="n-rpa" class="n"><rect x="3621" y="869" width="89" height="48"/><text y="882.5"><tspan x="3665.5">regulation of</tspan><tspan x="3665.5" dy="15">phosphatase</tspan><tspan x="3665.5" dy="15">activity</tspan></text></g>
<g id="n-nrha" class="n"><rect x="3746" y="869" width="133" height="48"/><text y="882.5"><tspan x="3812.5">negative regulation</tspan><tspan x="3812.5" dy="15">of hydrolase</tspan><tspan x="3812.5" dy="15">activity</tspan></text></g>
<g id="n-nrasp" class="n"><rect x="4847" y="869" width="133" height="48"/><text y="882.5"><tspan x="4913.5">negative regulation</tspan><tspan x="4913.5" dy="15">of apoptotic</tspan><tspan x="4913.5" dy="15">signaling pathway</tspan></text></g>
<g id="n-riasp" class="n"><rect x="5004" y="869" width="126" height="48"/><text y="882.5"><tspan x="5067">regulation of</tspan><tspan x="5067" dy="15">intrinsic apoptotic</tspan><tspan x="5067" dy="15">signaling pathway</tspan></text></g>
<g id="n-natt" class="n"><rect x="2052" y="981" width="155" height="48"/><text y="1002"><tspan x="2129.5">nucleic acid-templated</tspan><tspan x="2129.5" dy="15">transcription</tspan></text></g>
<g id="n-rrnabp" class="n"><rect x="2382" y="981" width="119" height="48"/><text y="994.5"><tspan x="2441.5">regulation of</tspan><tspan x="2441.5" dy="15">RNA biosynthetic</tspan><tspan x="2441.5" dy="15">process</tspan></text></g>
<g id="n-nrrnamp" class="n"><rect x="2525" y="981" width="133" height="48"/><text y="994.5"><tspan x="2591.5">negative regulation</tspan><tspan x="2591.5" dy="15">of RNA metabolic</tspan><tspan x="2591.5" dy="15">process</tspan></text></g>
<g id="n-nrpa" class="n a"><rect x="3599" y="981" width="133" height="48"/><text y="994.5"><tspan x="3665.5">negative regulation</tspan><tspan x="3665.5" dy="15">of phosphatase</tspan><tspan x="3665.5" dy="15">activity</tspan></text></g>
<g id="n-nriasp" class="n a"><rect x="5050" y="973" width="133" height="64"/><text y="987"><tspan x="5116.5">negative regulation</tspan><tspan x="5116.5" dy="15">of intrinsic</tspan><tspan x="5116.5" dy="15">apoptotic signaling</tspan><tspan x="5116.5" dy="15">pathway</tspan></text></g>
<g id="n-dtt" class="n"><rect x="1871" y="1086" width="106" height="48"/><text y="1107"><tspan x="1924">DNA-templated</tspan><tspan x="1924" dy="15">transcription</tspan></text></g>
<g id="n-rnatt" class="n"><rect x="2158" y="1086" width="155" height="48"/><text y="1099.5"><tspan x="2235.5">regulation of</tspan><tspan x="2235.5" dy="15">nucleic acid-templated</tspan><tspan x="2235.5" dy="15">transcription</tspan></text></g>
<g id="n-nrrnabp" class="n"><rect x="2392" y="1086" width="134" height="48"/><text y="1099.5"><tspan x="2459">negative regulation</tspan><tspan x="2459" dy="15">of RNA biosynthetic</tspan><tspan x="2459" dy="15">process</tspan></text></g>
<g id="n-trp2" class="n"><rect x="1761" y="1185" width="134" height="48"/><text y="1198.5"><tspan x="1828">transcription</tspan><tspan x="1828" dy="15">by RNA polymerase</tspan><tspan x="1828" dy="15">II</tspan></text></g>
<g id="n-rdtt" class="n"><rect x="1970" y="1185" width="107" height="48"/><text y="1198.5"><tspan x="2023.5">regulation of</tspan><tspan x="2023.5" dy="15">DNA-templated</tspan><tspan x="2023.5" dy="15">transcription</tspan></text></g>
<g id="n-nrnatt" class="n"><rect x="2118" y="1185" width="171" height="48"/><text y="1198.5"><tspan x="2203.5">negative regulation</tspan><tspan x="2203.5" dy="15">of nucleic acid-templated</tspan><tspan x="2203.5" dy="15">transcription</tspan></text></g>
<g id="n-rtrp2" class="n a"><rect x="1834" y="1282" width="133" height="64"/><text y="1296"><tspan x="1900.5">regulation of</tspan><tspan x="1900.5" dy="15">transcription</tspan><tspan x="1900.5" dy="15">by RNA polymerase</tspan><tspan x="1900.5" dy="15">II</tspan></text></g>
<g id="n-nrdtt" class="n"><rect x="1992" y="1290" width="133" height="48"/><text y="1303.5"><tspan x="2058.5">negative regulation</tspan><tspan x="2058.5" dy="15">of DNA-templated</tspan><tspan x="2058.5" dy="15">transcription</tspan></text></g>
<g id="n-nrtrp2" class="n a"><rect x="1834" y="1394" width="133" height="64"/><text y="1408"><tspan x="1900.5">negative regulation</tspan><tspan x="1900.5" dy="15">of transcription</tspan><tspan x="1900.5" dy="15">by RNA polymerase</tspan><tspan x="1900.5" dy="15">II</tspan></text></g>
</g>
</svg>
